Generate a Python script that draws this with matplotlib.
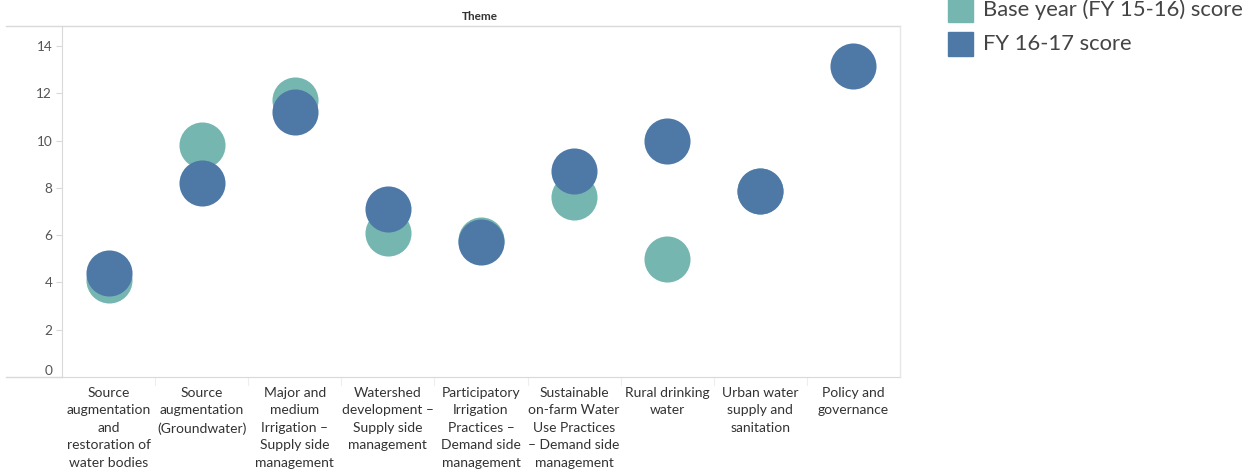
import matplotlib
matplotlib.use("Agg")
import matplotlib.pyplot as plt
import numpy as np
from matplotlib.patches import Rectangle
from matplotlib.lines import Line2D

categories = [
    "Source\naugmentation\nand\nrestoration of\nwater bodies",
    "Source\naugmentation\n(Groundwater)",
    "Major and\nmedium\nIrrigation –\nSupply side\nmanagement",
    "Watershed\ndevelopment –\nSupply side\nmanagement",
    "Participatory\nIrrigation\nPractices –\nDemand side\nmanagement",
    "Sustainable\non-farm Water\nUse Practices\n– Demand side\nmanagement",
    "Rural drinking\nwater",
    "Urban water\nsupply and\nsanitation",
    "Policy and\ngovernance",
]
base_scores = [4.1, 9.8, 11.7, 6.1, 5.8, 7.6, 5.0, 7.85, np.nan]
fy1617_scores = [4.4, 8.2, 11.2, 7.1, 5.7, 8.7, 10.0, 7.85, 13.15]
series_labels = ["Base year (FY 15-16) score", "FY 16-17 score"]
yticks = [0, 2, 4, 6, 8, 10, 12, 14]

c_base = "#76b6b0"
c_new = "#4e79a7"
grid_c = "#d9d9d9"
txt_c = "#555555"
FONT = "Lato"

W, H = 1255, 472
fig = plt.figure(figsize=(W / 100, H / 100), dpi=100)
L, R, T, B = 62, 900, 26, 377
ax = fig.add_axes([L / W, 1 - B / H, (R - L) / W, (B - T) / H])

x = np.arange(len(categories))
ax.scatter(x, base_scores, s=1100, color=c_base, linewidths=0, zorder=2)
ax.scatter(x, fy1617_scores, s=1100, color=c_new, linewidths=0, zorder=3)

ax.set_xlim(-0.5, len(categories) - 0.5)
ax.set_ylim(0, 14.85)
ax.set_yticks(yticks)
ax.set_yticklabels([str(v) for v in yticks], fontfamily=FONT, fontsize=9.8, color=txt_c)
ax.set_xticks(x)
ax.set_xticklabels(categories, fontfamily=FONT, fontsize=10, color="#333333",
                   linespacing=1.55, va="top")
ax.tick_params(axis="x", length=0, pad=7)
ax.tick_params(axis="y", length=4, color=grid_c, pad=3)
for lab in ax.get_yticklabels():
    if lab.get_text() == "0":
        lab.set_va("bottom")

for s in ["top", "right"]:
    ax.spines[s].set_visible(False)
ax.spines["left"].set_color(grid_c)
ax.spines["bottom"].set_color(grid_c)

# column separator tick marks below axis
for b in np.arange(0.5, len(categories) - 0.5, 1.0):
    ax.plot([b, b], [0, -0.35], color="#eeeeee", lw=0.8, clip_on=False)

# header lines
fig.add_artist(Line2D([6 / W, R / W], [1 - T / H, 1 - T / H], color=grid_c, lw=1))
fig.add_artist(Line2D([6 / W, L / W], [1 - B / H, 1 - B / H], color=grid_c, lw=1))
fig.add_artist(Line2D([R / W, R / W], [1 - T / H, 1 - B / H], color="#e6e6e6", lw=1))
fig.text(480 / W, 1 - 17 / H, "Theme", ha="center", va="center",
         fontfamily=FONT, fontsize=8.5, fontweight="bold", color="#333333")

# legend
for i, (lab, col) in enumerate(zip(series_labels, [c_base, c_new])):
    yc = 10 + i * 34
    fig.add_artist(Rectangle((948 / W, 1 - (yc + 12) / H), 25 / W, 24 / H,
                             color=col, transform=fig.transFigure))
    fig.text(983 / W, 1 - yc / H, lab, ha="left", va="center",
             fontfamily=FONT, fontsize=15.8, color="#444444")

fig.savefig("out.png", dpi=100)
